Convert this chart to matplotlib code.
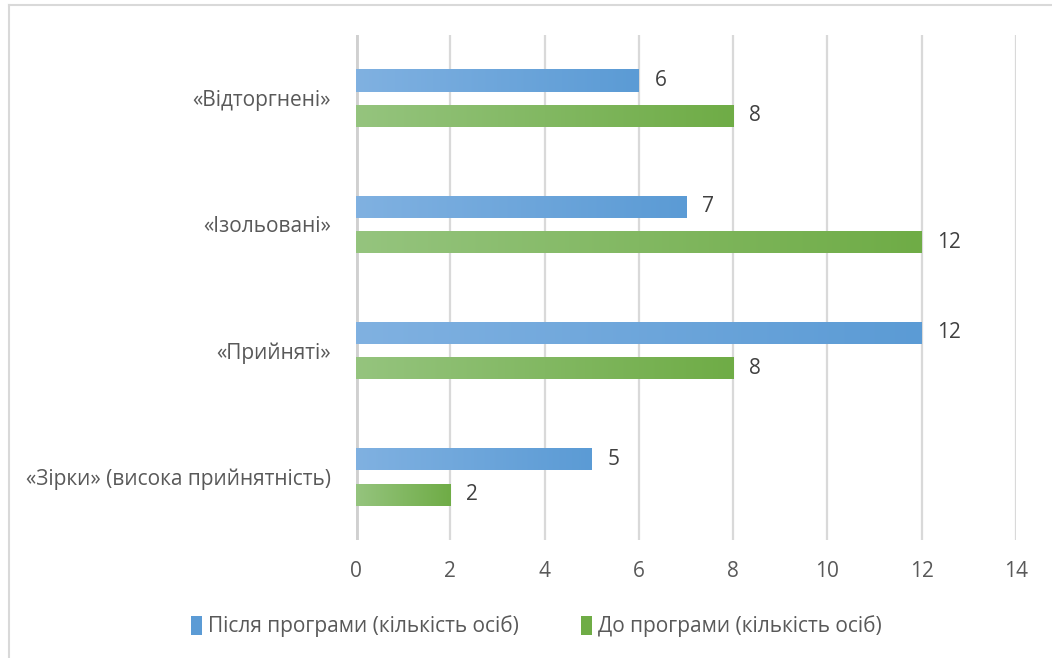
import numpy as np
import matplotlib.pyplot as plt
from matplotlib.colors import LinearSegmentedColormap
from matplotlib.lines import Line2D
from matplotlib.patches import Patch

plt.rcParams['font.family'] = ['Open Sans', 'DejaVu Sans']

categories = ["«Зірки» (висока прийнятність)", "«Прийняті»", "«Ізольовані»", "«Відторгнені»"]
after_vals = [5, 12, 7, 6]
before_vals = [2, 8, 12, 8]
after_label = "Після програми (кількість осіб)"
before_label = "До програми (кількість осіб)"

TEXT = "#595959"
GRID = "#d9d9d9"
BLUE = ("#80b1e1", "#5b9bd5")
GREEN = ("#95c47e", "#6fac46")
FS = 15

fig = plt.figure(figsize=(10.52, 6.58), dpi=100)
ax = fig.add_axes([0.3384, 0.1793, 0.6274, 0.7675])

y = np.arange(len(categories))
h = 0.175
off = 0.14


def gradient_bars(ax, ypos, vals, colors):
    bars = ax.barh(ypos, vals, height=h, color=colors[1], zorder=2)
    cmap = LinearSegmentedColormap.from_list("g", list(colors))
    grad = np.linspace(0, 1, 256).reshape(1, -1)
    for b in bars:
        x0, y0 = b.get_x(), b.get_y()
        w, hh = b.get_width(), b.get_height()
        im = ax.imshow(grad, cmap=cmap, aspect="auto", zorder=3,
                       extent=(x0, x0 + w, y0, y0 + hh), interpolation="bilinear")
        im.set_clip_path(b)
    for yy, v in zip(ypos, vals):
        ax.text(v + 0.33, yy, str(v), ha="left", va="center",
                fontsize=FS, color="#404040", zorder=4)
    return bars


gradient_bars(ax, y + off, after_vals, BLUE)
gradient_bars(ax, y - off, before_vals, GREEN)

ax.set_xlim(0, 14)
ax.set_ylim(-0.5, len(categories) - 0.5)
ax.set_xticks(np.arange(0, 15, 2))
ax.set_yticks(y)
ax.set_yticklabels(categories)
ax.tick_params(axis="both", length=0, labelsize=FS, labelcolor=TEXT)
ax.tick_params(axis="x", pad=15)
ax.tick_params(axis="y", pad=18)
ax.grid(axis="x", color=GRID, linewidth=1.6, zorder=0)
ax.set_axisbelow(True)
for s in ax.spines.values():
    s.set_visible(False)
ax.axvline(0, color="#d0d0d0", linewidth=3.5, zorder=1)

handles = [Patch(facecolor=BLUE[1], label=after_label),
           Patch(facecolor=GREEN[1], label=before_label)]
fig.legend(handles=handles, loc="center", bbox_to_anchor=(0.51, 0.048), ncol=2,
           frameon=False, fontsize=FS, labelcolor=TEXT, handlelength=0.5,
           handleheight=1.0, handletextpad=0.3, columnspacing=3.0)

# outer chart border (only top and left edges fall inside the canvas)
fig.add_artist(Line2D([9 / 1052, 9 / 1052], [0, 1 - 5 / 658], transform=fig.transFigure,
                      color="#d9d9d9", linewidth=1.5))
fig.add_artist(Line2D([9 / 1052, 1], [1 - 5 / 658, 1 - 5 / 658], transform=fig.transFigure,
                      color="#d9d9d9", linewidth=1.5))

fig.savefig("out.png", dpi=100)
